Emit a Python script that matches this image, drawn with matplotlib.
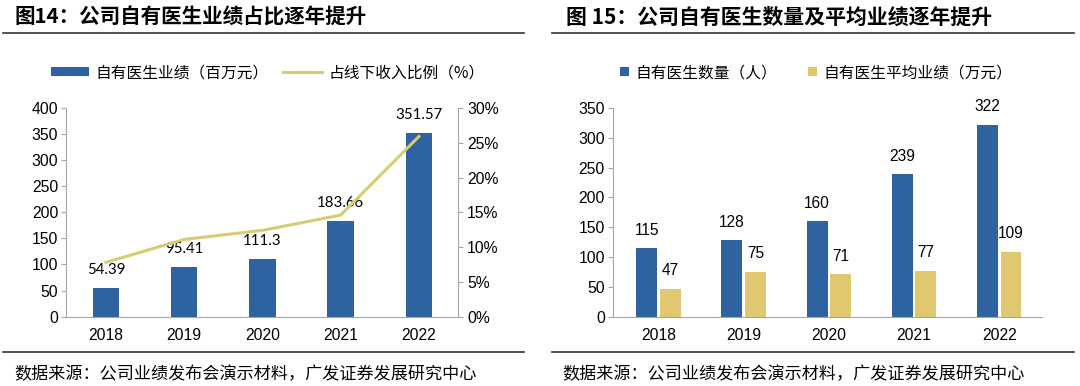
import matplotlib
matplotlib.use("Agg")
import matplotlib.pyplot as plt
from matplotlib.lines import Line2D
from matplotlib.patches import Patch
import numpy as np

plt.rcParams['font.family'] = ['Liberation Sans', 'Noto Sans CJK SC', 'DejaVu Sans']

# Data
years = ['2018', '2019', '2020', '2021', '2022']
doctor_revenue = [54.39, 95.41, 111.3, 183.66, 351.57]   # 百万元
offline_share = [7.8, 11.1, 12.4, 14.6, 25.9]           # %
doctor_count = [115, 128, 160, 239, 322]                 # 人
avg_revenue = [47, 75, 71, 77, 109]                      # 万元

blue = '#2F62A0'
gold = '#E1C870'
line_col = '#D8CB72'
spine_col = '#A6A6A6'
cjk = ['Noto Sans CJK SC', 'DejaVu Sans']
tick_fs = 11.3

W, H = 1080, 386
fig = plt.figure(figsize=(W / 100, H / 100), dpi=100)


def fx(px):
    return px / W


def fy(py):
    return 1 - py / H


def style_axes(ax):
    for s in ['top', 'right']:
        ax.spines[s].set_visible(False)
    for s in ['left', 'bottom']:
        ax.spines[s].set_color(spine_col)
        ax.spines[s].set_linewidth(0.8)
    ax.tick_params(axis='y', length=3.6, color=spine_col, labelsize=tick_fs, pad=2)
    ax.tick_params(axis='x', length=0, labelsize=tick_fs, pad=8)


def legend_item(handle, label, x_px, y_px, hl, hh):
    leg = fig.legend(handles=[handle], labels=[label], loc='center left',
                     bbox_to_anchor=(fx(x_px), fy(y_px)), frameon=False,
                     prop={'family': cjk, 'size': 11.3}, handlelength=hl,
                     handleheight=hh, handletextpad=0.4, borderpad=0,
                     borderaxespad=0)
    return leg


# ---------- Left chart ----------
fig.text(fx(15), fy(17), '图14：公司自有医生业绩占比逐年提升', family=cjk,
         fontsize=14.8, fontweight='bold', va='center', ha='left')
fig.add_artist(Line2D([fx(3), fx(524)], [fy(33), fy(33)], color='#333333', lw=1.2))

ax1 = fig.add_axes([fx(66), fy(316.6), fx(458) - fx(66), fy(108) - fy(316.6)])
x = np.arange(len(years))
ax1.bar(x, doctor_revenue, width=0.34, color=blue, zorder=2)
ax1.set_ylim(0, 400)
ax1.set_yticks(range(0, 401, 50))
ax1.set_xlim(-0.51, 4.5)
ax1.set_xticks(x)
ax1.set_xticklabels(years)
style_axes(ax1)
for xi, v in zip(x, doctor_revenue):
    ax1.annotate(f'{v:g}', (xi, v), xytext=(0, 13), textcoords='offset points',
                 ha='center', va='center', fontsize=10.8, family=['Lato', 'DejaVu Sans'])

ax1b = ax1.twinx()
ax1b.plot(x, offline_share, color=line_col, lw=2.2, zorder=3)
ax1b.set_ylim(0, 30)
ax1b.set_yticks(range(0, 31, 5))
ax1b.set_yticklabels([f'{t}%' for t in range(0, 31, 5)])
for s in ['top', 'left', 'bottom']:
    ax1b.spines[s].set_visible(False)
ax1b.spines['right'].set_color(spine_col)
ax1b.spines['right'].set_linewidth(0.8)
ax1b.tick_params(axis='y', length=3.6, color=spine_col, labelsize=tick_fs, pad=3)

legend_item(Patch(facecolor=blue), '自有医生业绩（百万元）', 51, 72.7, 2.42, 0.48)
legend_item(Line2D([0], [0], color=line_col, lw=2.2), '占线下收入比例（%）', 283, 72.7, 2.5, 0.5)

fig.add_artist(Line2D([fx(3), fx(524)], [fy(352), fy(352)], color='#333333', lw=1.2))
fig.text(fx(14), fy(374.6), '数据来源：公司业绩发布会演示材料，广发证券发展研究中心',
         family=cjk, fontsize=12.3, va='center', ha='left')

# ---------- Right chart ----------
fig.text(fx(566), fy(17), '图 15：公司自有医生数量及平均业绩逐年提升', family=cjk,
         fontsize=15, fontweight='bold', va='center', ha='left')
fig.add_artist(Line2D([fx(552), fx(1074)], [fy(33), fy(33)], color='#333333', lw=1.2))

ax2 = fig.add_axes([fx(612.7), fy(316.6), fx(1041.7) - fx(612.7), fy(108) - fy(316.6)])
bw = 0.246
off = 0.139
ax2.bar(x - off, doctor_count, width=bw, color=blue, zorder=2)
ax2.bar(x + off, avg_revenue, width=bw, color=gold, zorder=2)
ax2.set_ylim(0, 350)
ax2.set_yticks(range(0, 351, 50))
ax2.set_xlim(-0.54, 4.5)
ax2.set_xticks(x)
ax2.set_xticklabels(years)
style_axes(ax2)
for xi, v in zip(x - off, doctor_count):
    ax2.annotate(f'{v}', (xi, v), xytext=(0, 13), textcoords='offset points',
                 ha='center', va='center', fontsize=11.2)
for xi, v in zip(x + off, avg_revenue):
    ax2.annotate(f'{v}', (xi, v), xytext=(0, 13), textcoords='offset points',
                 ha='center', va='center', fontsize=11.2)

legend_item(Patch(facecolor=blue), '自有医生数量（人）', 620, 72.7, 0.57, 0.57)
legend_item(Patch(facecolor=gold), '自有医生平均业绩（万元）', 808, 72.7, 0.57, 0.57)

fig.add_artist(Line2D([fx(552), fx(1074)], [fy(352), fy(352)], color='#333333', lw=1.2))
fig.text(fx(562.5), fy(374.6), '数据来源：公司业绩发布会演示材料，广发证券发展研究中心',
         family=cjk, fontsize=12.3, va='center', ha='left')

fig.savefig('out.png', dpi=100, facecolor='white')
